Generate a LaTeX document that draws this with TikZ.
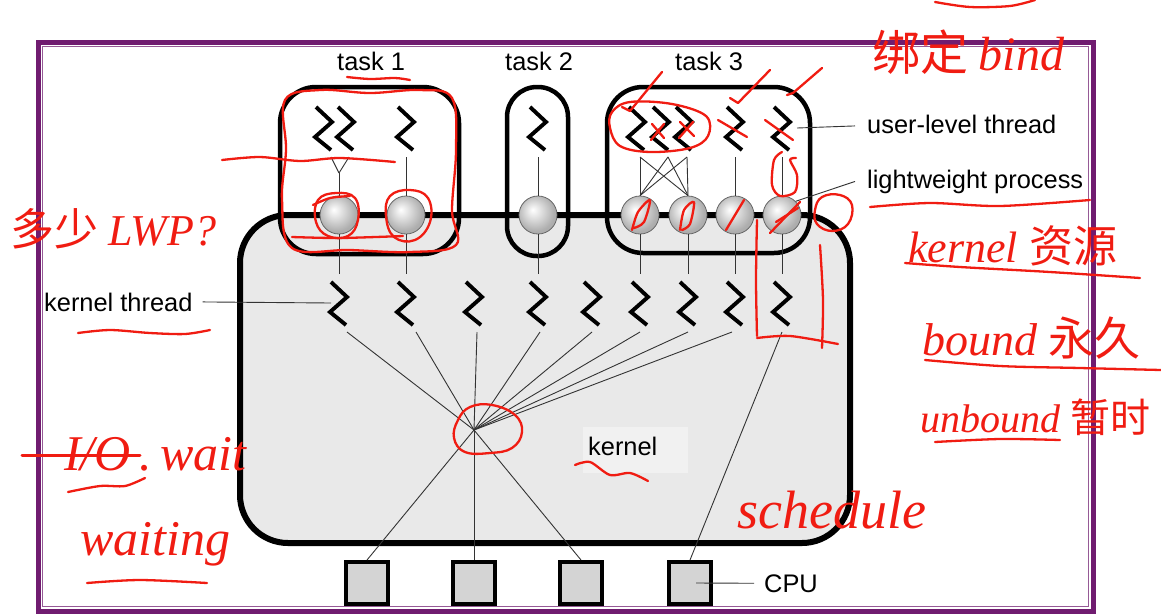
\documentclass[tikz,border=0pt]{standalone}
\usepackage{fontspec}
\setmainfont{Liberation Sans}
\newfontfamily\cjk{Noto Sans CJK SC}
\newfontfamily\hand{Liberation Serif}
\usetikzlibrary{calc}
\definecolor{framepurple}{RGB}{112,28,112}
\definecolor{framelight}{RGB}{150,90,150}
\definecolor{kfill}{RGB}{233,233,233}
\definecolor{kbg}{RGB}{241,241,241}
\definecolor{cpufill}{RGB}{212,212,212}
\definecolor{inkred}{RGB}{240,28,18}
\pgfdeclareradialshading{lwpshade}{\pgfpoint{-7bp}{7bp}}{color(0bp)=(white); color(8bp)=(black!10); color(25bp)=(black!32); color(50bp)=(black!35)}
\tikzset{
  zig/.style={minimum width=34, minimum height=58, inner sep=0, outer sep=0,
    path picture={\draw[line width=3.9, line join=miter, line cap=butt]
      ([shift={(-8,-21)}]path picture bounding box.center) --
      ([shift={(8,-6)}]path picture bounding box.center) --
      ([shift={(-9,9)}]path picture bounding box.center) --
      ([shift={(7,22)}]path picture bounding box.center);}},
  lwp/.style={circle, minimum size=38, inner sep=0, draw=black!60, line width=0.8, shading=lwpshade},
  cpubox/.style={draw, line width=4, fill=cpufill, minimum size=42, inner sep=0},
  taskbox/.style={draw, line width=4.5, rounded corners=36, inner sep=0},
  kernbox/.style={draw, line width=6, fill=kfill, rounded corners=48, inner sep=0},
  thin/.style={line width=0.9, black!80},
  lab/.style={font=\fontsize{25.4}{30}\selectfont, inner sep=0, anchor=base west},
  ink/.style={draw=inkred, line width=2.3, line cap=round, line join=round},
  inktext/.style={text=inkred, inner sep=0, anchor=base west},
}
\begin{document}
\begin{tikzpicture}[x=1pt,y=-1pt]
\useasboundingbox (0,0) rectangle (1161,614);
% frame
\draw[framepurple, line width=5] (38.5,42) rectangle (1093.5,611);
\draw[framelight, line width=1.2] (42.8,46.8) rectangle (1088.3,606.5);

% kernel
\node[kernbox, minimum width=610, minimum height=328] (kern) at (545,379) {};
\node[fill=kbg, minimum width=105, minimum height=46, inner sep=0] (kbox) at (635.5,450) {};
\node[lab] (klab) at (588,455) {kernel};

% kernel threads
\foreach \n/\x in {1/339,2/406,3/474,4/538,5/592,6/640,7/688,8/735,9/782}
  \node[zig] (k\n) at (\x,303) {};
% user threads
\foreach \n/\x in {1/324,2/346,3/406,4/538,5/637,6/661,7/684,8/735,9/782}
  \node[zig] (u\n) at (\x,128) {};
% CPUs
\foreach \n/\x in {1/367,2/474,3/581,4/690}
  \node[cpubox] (c\n) at (\x,583) {};

% task boxes
\node[taskbox, minimum width=179, minimum height=167] (task1) at (369.5,170.5) {};
\node[taskbox, rounded corners=30, minimum width=61, minimum height=169] (task2) at (537.5,171.5) {};
\node[taskbox, minimum width=203, minimum height=166] (task3) at (708.5,170) {};

% spheres
\foreach \n/\x in {1/339,2/406,3/538,4/640,5/688,6/735,7/782}
  \node[lwp] (s\n) at (\x,215) {};

% connectors user thread -> LWP
\coordinate (J) at (339,173);
\draw[thin] ([xshift=7]u1.south) -- (J);
\draw[thin] ([xshift=3]u2.south) -- (J);
\draw[thin] (J) -- (s1.north);
\draw[thin] (u3.south) -- (s2.north);
\draw[thin] (u4.south) -- (s3.north);
\foreach \u/\d in {5/3,6/7,7/3}{
  \draw[thin] ([xshift=\d]u\u.south) -- (s4.north);
  \draw[thin] ([xshift=\d]u\u.south) -- (s5.north);
}
\draw[thin] (u8.south) -- (s6.north);
\draw[thin] (u9.south) -- (s7.north);

% LWP -> kernel thread
\foreach \s/\k in {1/1,2/2,3/4,4/6,5/7,6/8,7/9}
  \draw[thin] (s\s.south) -- (k\k.north);

% kernel threads -> CPUs
\coordinate (P) at (474,430);
\foreach \k/\d in {1/8,2/10,3/3,4/2,5/0,6/0,7/0,8/-3}
  \draw[thin] ([xshift=\d]k\k.south) -- (P);
\foreach \c in {1,2,3}
  \draw[thin] (P) -- (c\c.north);
\draw[thin] (k9.south) -- (c4.north);

% labels
\node[lab] (t1lab) at (337,70) {task 1};
\node[lab] (t2lab) at (505,70) {task 2};
\node[lab] (t3lab) at (675,70) {task 3};
\node[lab] (ulab) at (867,133) {user-level thread};
\node[lab] (llab) at (867,188) {lightweight process};
\node[lab] (ktlab) at (44,311) {kernel thread};
\node[lab] (cpulab) at (764,592) {CPU};

\draw[thin] ([xshift=-2]u9.east) -- ($(ulab.west)+(-12,2)$);
\draw[thin] (s7.north east) -- ($(llab.west)+(-12,0)$);
\draw[thin] ($(ktlab.east)+(10,0)$) -- ([xshift=-8]k1.center);
\draw[thin] ([xshift=6]c4.center) -- ($(cpulab.west)+(-10,0)$);

% ---------------- red handwritten annotations ----------------
\node[inktext] (a1) at (10,245) {\fontsize{44}{44}\selectfont\cjk 多少 \hand\itshape LWP?};
\node[inktext] (a2) at (872,70) {\fontsize{48}{48}\selectfont\cjk 绑定 \hand\itshape bind};
\node[inktext] (a3) at (908,262) {\fontsize{44}{44}\selectfont\hand\itshape kernel \cjk 资源};
\node[inktext] (a4) at (922,355) {\fontsize{46}{46}\selectfont\hand\itshape bound \cjk 永久};
\node[inktext] (a5) at (920,432) {\fontsize{40}{40}\selectfont\hand\itshape unbound \cjk 暂时};
\node[inktext] (a6) at (737,528) {\fontsize{54}{54}\selectfont\hand\itshape schedule};
\node[inktext] (a7) at (64,470) {\fontsize{50}{50}\selectfont\hand\itshape I/O\,.\,wait};
\node[inktext] (a8) at (80,555) {\fontsize{50}{50}\selectfont\hand\itshape waiting};

% strokes
\draw[ink] plot[smooth cycle, tension=0.6] coordinates {(285,100)(320,90)(370,93)(420,90)(452,98)(456,150)(452,210)(456,245)(410,252)(350,250)(292,248)(282,200)(286,150)};
\draw[ink] plot[smooth] coordinates {(222,160)(260,157)(300,161)(340,158)(395,162)};
\draw[ink] plot[smooth] coordinates {(347,77)(370,79)(395,78)(410,80)};
\draw[ink] plot[smooth cycle, tension=0.7] coordinates {(318,200)(336,193)(355,198)(358,220)(348,236)(328,236)(316,222)};
\draw[ink] plot[smooth] coordinates {(313,205)(330,198)(350,196)};
\draw[ink] plot[smooth cycle, tension=0.7] coordinates {(390,196)(410,190)(428,198)(430,222)(415,240)(394,237)(386,216)};
\draw[ink] plot[smooth] coordinates {(292,237)(340,238)(403,236)};
% fan blob
\draw[ink] plot[smooth cycle, tension=0.7] coordinates {(458,420)(470,407)(492,405)(515,415)(522,432)(512,448)(490,453)(465,452)(454,438)};
% task 3 checks
\draw[ink] (622,107) -- (630,111) -- (662,72);
\draw[ink] (730,98) -- (738,103) -- (770,70);
\draw[ink] (787,95) -- (793,93) -- (822,68);
\draw[ink] plot[smooth cycle, tension=0.6] coordinates {(612,112)(630,102)(672,104)(706,116)(708,136)(690,148)(650,152)(620,146)(610,128)};
\draw[ink] (652,124) -- (664,138) (664,124) -- (651,140);
\draw[ink] (680,122) -- (694,136) (693,122) -- (679,138);
\draw[ink] (718,120) -- (747,137);
\draw[ink] (765,120) -- (793,140);
% LWP scribbles
\draw[ink] plot[smooth] coordinates {(632,230)(638,212)(650,200)(644,222)(634,228)};
\draw[ink] plot[smooth] coordinates {(680,230)(684,210)(694,202)(690,224)(682,230)};
\draw[ink] (726,230) -- (744,200);
\draw[ink] (770,233) -- (800,202);
\draw[ink] (776,222) -- (798,208);
\draw[ink] plot[smooth cycle, tension=0.7] coordinates {(815,210)(822,197)(840,195)(852,205)(848,224)(832,231)(817,224)};
% box around last kernel thread
\draw[ink] plot[smooth] coordinates {(757,220)(756,280)(757,336)};
\draw[ink] plot[smooth] coordinates {(757,338)(790,336)(838,344)};
\draw[ink] plot[smooth] coordinates {(782,152)(774,160)(772,185)(780,196)(795,192)(797,175)(790,160)(796,158)};
\draw[ink] plot[smooth] coordinates {(820,245)(823,300)(822,348)};
% right-side underlines
\draw[ink] plot[smooth] coordinates {(870,207)(930,203)(1000,206)(1090,200)};
\draw[ink] plot[smooth] coordinates {(905,263)(960,267)(1050,272)(1140,278)};
\draw[ink] plot[smooth] coordinates {(925,360)(1000,366)(1080,368)(1161,370)};
\draw[ink] plot[smooth] coordinates {(935,442)(1000,439)(1060,440)};
\draw[ink] plot[smooth] coordinates {(935,2)(970,7)(1010,6)(1035,0)};
% left-side underlines
\draw[ink] plot[smooth] coordinates {(78,333)(110,330)(150,333)(185,334)(210,330)};
\draw[ink, line width=3] (22,455) -- (140,455);
\draw[ink] plot[smooth] coordinates {(68,492)(100,486)(125,486)(145,478)};
\draw[ink] plot[smooth] coordinates {(87,583)(140,580)(207,583)};
% kernel wavy
\draw[ink] plot[smooth] coordinates {(575,465)(590,462)(610,475)(630,473)(648,481)};
\end{tikzpicture}
\end{document}
